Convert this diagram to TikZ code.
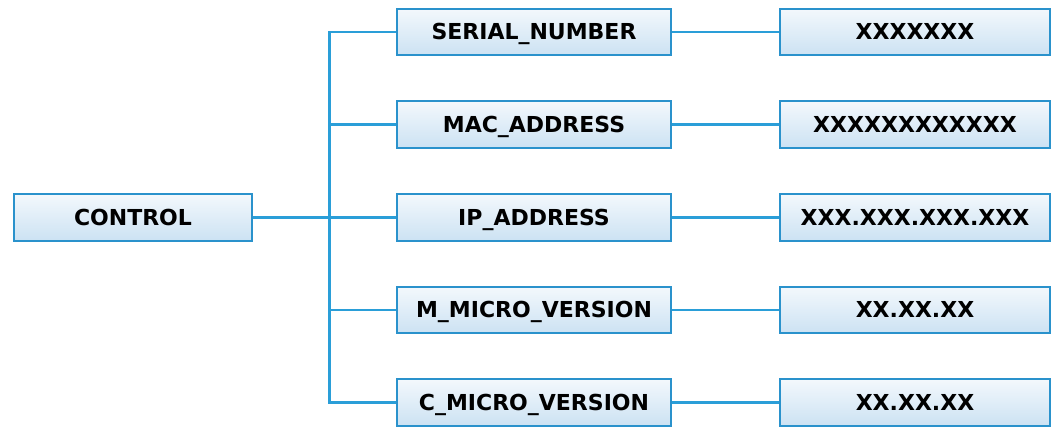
\documentclass[tikz,border=0pt]{standalone}
\usepackage{fontspec}
\setmainfont{DejaVu Sans}
\begin{document}
\begin{tikzpicture}[x=1pt,y=-1pt,
  box/.style={draw=boxblue, line width=1.8pt, top color=boxtop, bottom color=boxbot,
    minimum height=46.5pt, inner sep=0pt, text height=16pt, text depth=0pt,
    font=\bfseries\fontsize{22}{26}\selectfont},
  midbox/.style={box, minimum width=274.5pt},
  rightbox/.style={box, minimum width=270.5pt},
  link/.style={draw=lineblue, line width=2.2pt}]
\definecolor{boxblue}{HTML}{2A92CC}
\definecolor{lineblue}{HTML}{2A9ED8}
\definecolor{boxtop}{HTML}{F3F8FC}
\definecolor{boxbot}{HTML}{CCE2F3}
\useasboundingbox (0,0) rectangle (1052,427);
\node[box, minimum width=238.5pt] (ctrl) at (133,217.5) {CONTROL};
\foreach \i/\y/\a/\b in {1/32/SERIAL\_NUMBER/XXXXXXX,
                         2/124.5/MAC\_ADDRESS/XXXXXXXXXXXX,
                         3/217.5/IP\_ADDRESS/XXX.XXX.XXX.XXX,
                         4/310/M\_MICRO\_VERSION/XX.XX.XX,
                         5/402.5/C\_MICRO\_VERSION/XX.XX.XX}{
  \node[midbox] (m\i) at (534,\y) {\a};
  \node[rightbox] (r\i) at (915,\y) {\b};
  \coordinate (j\i) at (329.5,\y);
  \draw[link] (m\i.east) -- (r\i.west);
}
\draw[link] (m1.west) -- (j1) -- (j5) -- (m5.west);
\foreach \i in {2,3,4}{\draw[link] (j\i) -- (m\i.west);}
\draw[link] (ctrl.east) -- (j3);
\end{tikzpicture}
\end{document}
